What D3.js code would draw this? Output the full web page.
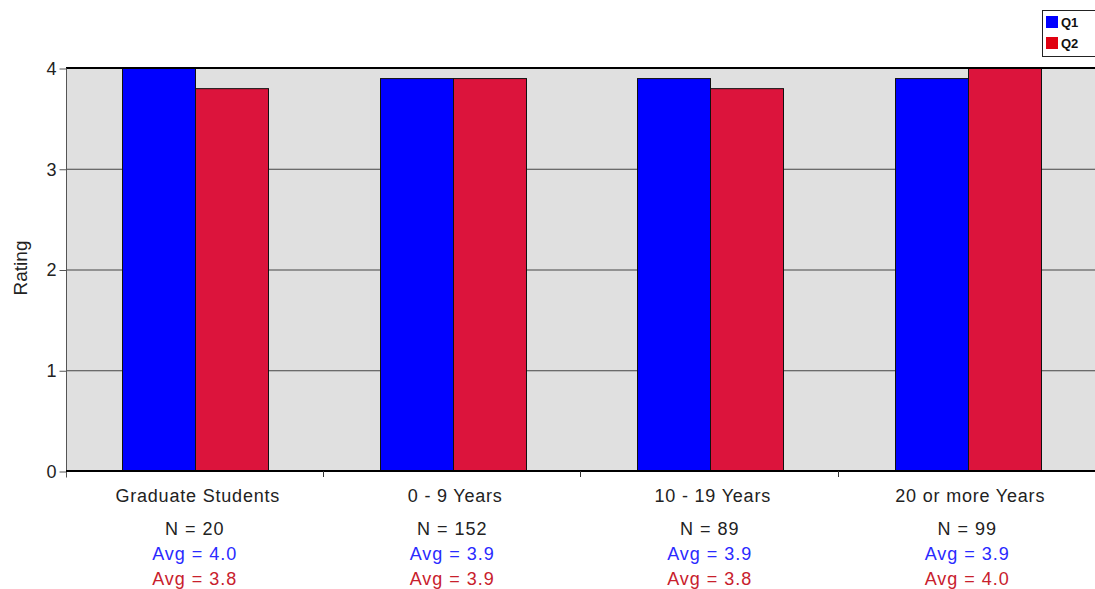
<!DOCTYPE html>
<html>
<head>
<meta charset="utf-8">
<script src="https://cdn.jsdelivr.net/npm/d3@7"></script>
<style>
html,body{margin:0;padding:0;background:#fff;}
svg{display:block;}
text{font-family:"Liberation Sans",Arial,sans-serif;}
</style>
</head>
<body>
<script>
const categories = ["Graduate Students", "0 - 9 Years", "10 - 19 Years", "20 or more Years"];
const seriesNames = ["Q1", "Q2"];
const q1Values = [4.0, 3.9, 3.9, 3.9];
const q2Values = [3.8, 3.9, 3.8, 4.0];
const nValues = [20, 152, 89, 99];
const yTicks = [0, 1, 2, 3, 4];
const colors = ["#0000ff", "#dc143c"];
const avgColors = ["#2a2aff", "#c8202c"];

const W = 1095, H = 589;
const margin = {left: 66, top: 68, bottom: 471};
const plotRight = 66 + 4 * 257.5;

const svg = d3.select("body").append("svg").attr("width", W).attr("height", H);

const x = d3.scaleBand().domain(categories).range([margin.left, plotRight]).paddingInner(0).paddingOuter(0);
const xs = d3.scaleBand().domain(seriesNames).range([0, x.bandwidth()]).paddingInner(0).paddingOuter(0.763);
const y = d3.scaleLinear().domain([0, 4]).range([margin.bottom, margin.top]);

// background
svg.append("rect").attr("x", margin.left).attr("y", margin.top)
  .attr("width", plotRight - margin.left).attr("height", margin.bottom - margin.top)
  .attr("fill", "#e0e0e0");

// gridlines
svg.append("g").selectAll("line").data(yTicks.filter(d => d > 0 && d < 4)).join("line")
  .attr("x1", margin.left).attr("x2", plotRight)
  .attr("y1", d => y(d) + 0.5).attr("y2", d => y(d) + 0.5)
  .attr("stroke", "#444").attr("stroke-width", 1);

// bars
const data = categories.map((c, i) => ({c, vals: [q1Values[i], q2Values[i]]}));
const groups = svg.append("g").selectAll("g").data(data).join("g")
  .attr("transform", d => `translate(${Math.round(x(d.c))},0)`);
groups.selectAll("rect").data(d => d.vals.map((v, j) => ({s: seriesNames[j], v, j}))).join("rect")
  .attr("x", d => Math.round(xs(d.s)) + 0.5)
  .attr("y", d => y(d.v) + 0.5)
  .attr("width", Math.round(xs.bandwidth()))
  .attr("height", d => y(0) - y(d.v))
  .attr("fill", d => colors[d.j])
  .attr("stroke", "#111").attr("stroke-width", 1);

// top border
svg.append("line").attr("x1", margin.left).attr("x2", plotRight)
  .attr("y1", margin.top).attr("y2", margin.top).attr("stroke", "#000").attr("stroke-width", 2);

// y axis
const yAxis = d3.axisLeft(y).tickValues(yTicks).tickFormat(d3.format("d")).tickSize(7).tickPadding(3);
const yg = svg.append("g").attr("transform", `translate(${margin.left + 0.5},0.5)`).call(yAxis);
yg.select(".domain").attr("stroke", "#555").attr("d", `M0,${margin.top}V${margin.bottom + 6}`);
yg.selectAll(".tick line").attr("stroke", "#555");
yg.selectAll(".tick text").attr("font-size", 18).attr("fill", "#222")
  .attr("font-family", "'Liberation Sans',Arial,sans-serif");

// x axis
const xAxis = d3.axisBottom(x).tickSize(0).tickFormat("");
const xg = svg.append("g").attr("transform", `translate(0,${margin.bottom})`).call(xAxis);
xg.select(".domain").remove();
svg.append("line").attr("x1", margin.left).attr("x2", plotRight)
  .attr("y1", margin.bottom).attr("y2", margin.bottom).attr("stroke", "#000").attr("stroke-width", 2);
// band boundary ticks
svg.append("g").selectAll("line").data(categories.slice(1)).join("line")
  .attr("x1", d => Math.round(x(d)) - 0.5).attr("x2", d => Math.round(x(d)) - 0.5)
  .attr("y1", margin.bottom).attr("y2", margin.bottom + 6)
  .attr("stroke", "#333").attr("stroke-width", 1);

// category labels + stats
const lab = svg.append("g").selectAll("g").data(categories).join("g")
  .attr("transform", d => `translate(${x(d) + x.bandwidth() / 2},0)`);
lab.append("text").attr("x", 3).attr("y", 502).attr("text-anchor", "middle").attr("font-size", 18)
  .attr("letter-spacing", "0.8px").attr("fill", "#222").text(d => d);
lab.append("text").attr("y", 535).attr("text-anchor", "middle").attr("font-size", 18)
  .attr("letter-spacing", "1px").attr("fill", "#222").text((d, i) => "N = " + nValues[i]);
lab.append("text").attr("y", 560).attr("text-anchor", "middle").attr("font-size", 18)
  .attr("letter-spacing", "1px").attr("fill", avgColors[0]).text((d, i) => "Avg = " + q1Values[i].toFixed(1));
lab.append("text").attr("y", 585).attr("text-anchor", "middle").attr("font-size", 18)
  .attr("letter-spacing", "1px").attr("fill", avgColors[1]).text((d, i) => "Avg = " + q2Values[i].toFixed(1));

// y label
svg.append("text").attr("transform", "translate(27,268) rotate(-90)")
  .attr("text-anchor", "middle").attr("font-size", 19).attr("fill", "#222").text("Rating");

// legend
const lg = svg.append("g");
lg.append("rect").attr("x", 1042.5).attr("y", 10.5).attr("width", 60).attr("height", 46)
  .attr("fill", "#fff").attr("stroke", "#222").attr("stroke-width", 1);
const le = lg.selectAll("g").data(seriesNames).join("g")
  .attr("transform", (d, i) => `translate(1046,${16 + i * 21})`);
le.append("rect").attr("width", 12).attr("height", 12).attr("fill", (d, i) => colors[i] === "#dc143c" ? "#e00010" : colors[i]);
le.append("text").attr("x", 15).attr("y", 11).attr("font-size", 13).attr("font-weight", "bold")
  .attr("fill", "#111").text(d => d);
</script>
</body>
</html>
